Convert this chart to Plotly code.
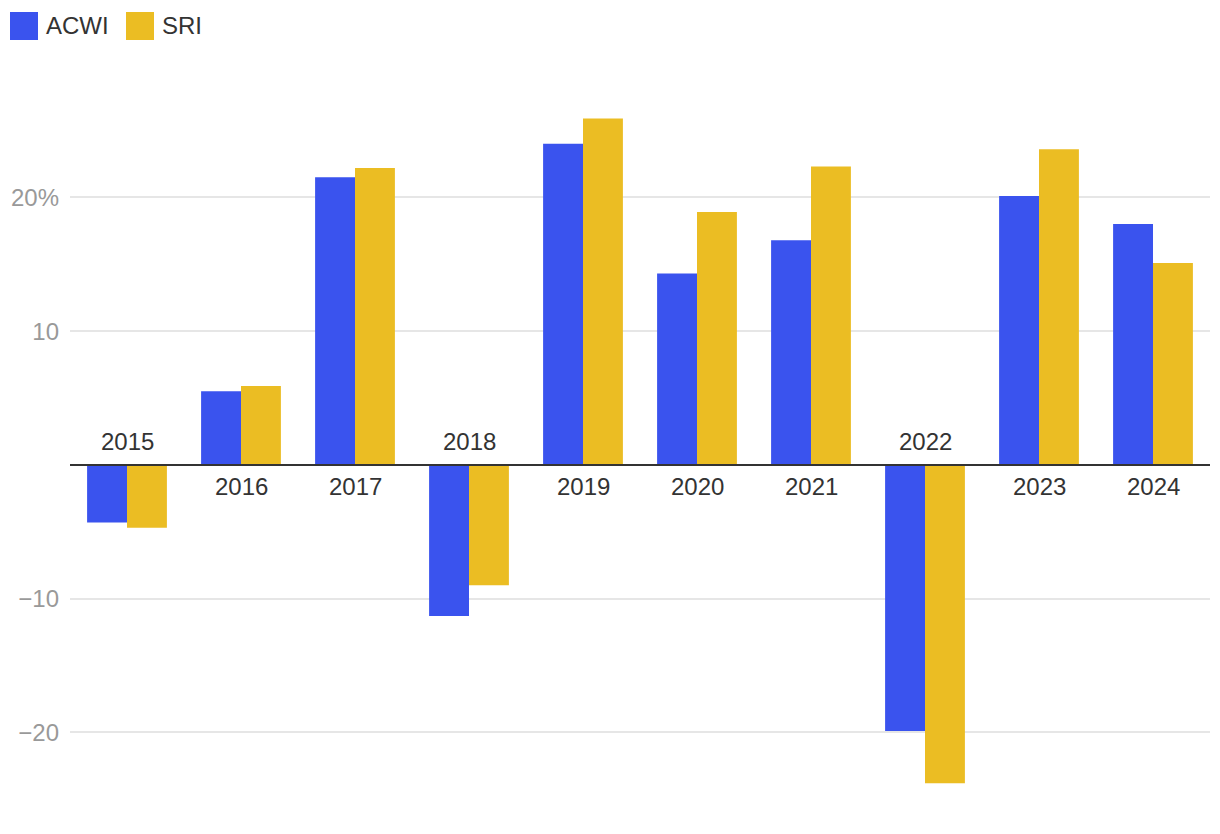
import plotly.graph_objects as go

years = ["2015", "2016", "2017", "2018", "2019", "2020", "2021", "2022", "2023", "2024"]
acwi = [-4.3, 5.5, 21.5, -11.3, 24.0, 14.3, 16.8, -19.9, 20.1, 18.0]
sri = [-4.7, 5.9, 22.2, -9.0, 25.9, 18.9, 22.3, -23.8, 23.6, 15.1]
tick_vals = [-20, -10, 10, 20]
tick_text = ["\u221220", "\u221210", "10", "20%"]
series_names = ["ACWI", "SRI"]

BLUE = "#3A53EE"
YELLOW = "#EBBD23"
FONT = "Liberation Sans, Arial, Helvetica, sans-serif"

# figure sits at an 8px page offset: figure px = reference px - 8
W, H = 1204, 818
ML, MR, MT, MB = 62, 2, 89, 20
PW, PH = W - ML - MR, H - MT - MB


def px_x(px):
    return (px - 8 - ML) / PW


def px_y(py):
    return (H - MB - (py - 8)) / PH


fig = go.Figure()
fig.add_trace(go.Bar(x=years, y=acwi, name=series_names[0], marker_color=BLUE,
                     marker_line_width=0, showlegend=False))
fig.add_trace(go.Bar(x=years, y=sri, name=series_names[1], marker_color=YELLOW,
                     marker_line_width=0, showlegend=False))

# legend swatches + labels
for (name, col, x0) in [(series_names[0], BLUE, 10), (series_names[1], YELLOW, 126)]:
    fig.add_shape(type="rect", xref="paper", yref="paper",
                  x0=px_x(x0), x1=px_x(x0 + 28), y0=px_y(40), y1=px_y(12),
                  fillcolor=col, line=dict(width=0))
    fig.add_annotation(xref="paper", yref="paper", x=px_x(x0 + 34), y=px_y(26),
                       xanchor="left", yanchor="middle", text=name, showarrow=False,
                       font=dict(size=24, color="#333333", family=FONT))

for i, (yr, a, s) in enumerate(zip(years, acwi, sri)):
    neg = max(a, s) < 0
    fig.add_annotation(x=i, y=0, xref="x", yref="y", text=yr, showarrow=False,
                       yanchor="bottom" if neg else "top",
                       yshift=8 if neg else -6,
                       font=dict(size=24, color="#333333", family=FONT))

fig.add_shape(type="line", xref="paper", yref="y", x0=0, x1=1, y0=0, y1=0,
              line=dict(color="#333333", width=2))

fig.update_layout(
    width=W, height=H,
    margin=dict(l=ML, r=MR, t=MT, b=MB),
    paper_bgcolor="white", plot_bgcolor="white",
    barmode="group", bargap=0.3, bargroupgap=0,
    showlegend=False,
    font=dict(family=FONT, size=24, color="#333333"),
    xaxis=dict(type="category", range=[-0.5, len(years) - 0.5], showticklabels=False,
               showgrid=False, zeroline=False, showline=False, ticks=""),
    yaxis=dict(range=[-25.5, 27.5], tickvals=tick_vals, ticktext=tick_text,
               showgrid=True, gridcolor="#E6E6E6", gridwidth=2, zeroline=False,
               tickfont=dict(size=24, color="#999999", family=FONT), ticks="",
               ticklabelstandoff=10),
)

fig.write_html("out.html")
